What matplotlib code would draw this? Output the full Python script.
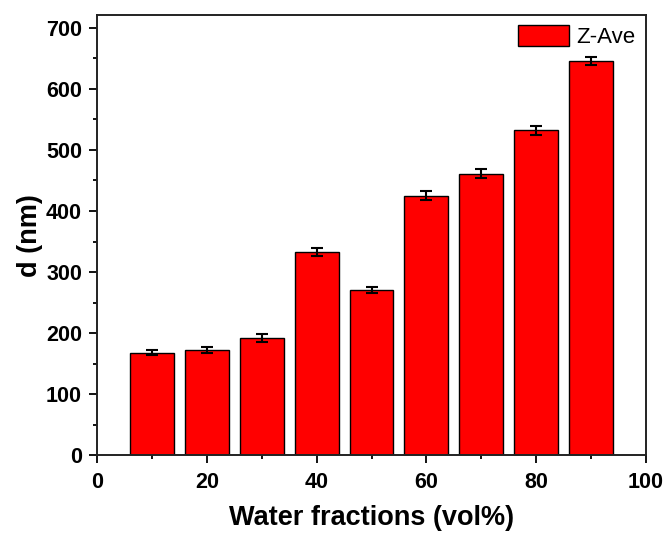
import matplotlib.pyplot as plt
from matplotlib.ticker import MultipleLocator

plt.rcParams['font.family'] = ['Liberation Sans', 'DejaVu Sans']

# Z-average diameter vs. water fraction
water_frac = [10, 20, 30, 40, 50, 60, 70, 80, 90]
z_ave = [168, 172, 192, 333, 271, 425, 461, 532, 646]
z_err = [4, 5, 7, 6, 5, 7, 7, 8, 7]

fig, ax = plt.subplots(figsize=(6.67, 5.38), dpi=100)
fig.subplots_adjust(left=0.146, right=0.968, top=0.972, bottom=0.154)

ax.bar(water_frac, z_ave, width=8, color='#ff0000', edgecolor='black',
       linewidth=1.0, label='Z-Ave', zorder=2)
ax.errorbar(water_frac, z_ave, yerr=z_err, fmt='none', ecolor='black',
            elinewidth=1.5, capsize=4, capthick=1.5, zorder=3)

ax.set_xlim(0, 100)
ax.set_ylim(0, 721)
ax.xaxis.set_major_locator(MultipleLocator(20))
ax.xaxis.set_minor_locator(MultipleLocator(10))
ax.yaxis.set_major_locator(MultipleLocator(100))
ax.yaxis.set_minor_locator(MultipleLocator(50))

ax.tick_params(which='major', direction='out', length=6, width=1.3,
               labelsize=15.5)
ax.tick_params(axis='x', which='major', pad=6)
ax.tick_params(axis='y', which='major', pad=5)
ax.tick_params(which='minor', direction='out', length=3, width=1.3)
for lbl in ax.get_xticklabels() + ax.get_yticklabels():
    lbl.set_fontweight('bold')
for sp in ax.spines.values():
    sp.set_linewidth(1.4)
    sp.set_color('#222222')

ax.set_xlabel('Water fractions (vol%)', fontsize=19.5, fontweight='bold',
              labelpad=9)
ax.set_ylabel('d (nm)', fontsize=19.5, fontweight='bold', labelpad=2)

ax.legend(loc='upper right', fontsize=16, frameon=False,
          handlelength=2.3, handleheight=1.1, handletextpad=0.35,
          borderaxespad=0.15, borderpad=0.3)

fig.savefig('out.png', dpi=100)
